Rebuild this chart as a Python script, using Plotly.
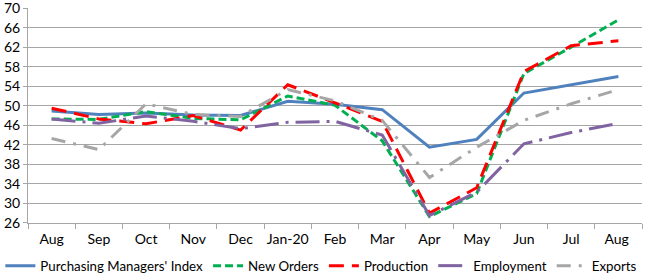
import plotly.graph_objects as go

months = ["Aug", "Sep", "Oct", "Nov", "Dec", "Jan-20", "Feb", "Mar", "Apr", "May", "Jun", "Jul", "Aug "]
pmi = [48.9, 48.2, 48.5, 48.1, 48.0, 50.9, 50.3, 49.2, 41.5, 43.1, 52.6, 54.3, 56.0]
new_orders = [47.3, 47.2, 48.8, 47.4, 47.1, 52.0, 50.1, 42.8, 27.3, 32.0, 56.6, 62.0, 67.6]
production = [49.5, 47.3, 46.3, 48.0, 45.0, 54.3, 50.6, 46.8, 28.0, 33.2, 57.0, 62.3, 63.3]
employment = [47.3, 46.4, 47.9, 46.8, 45.3, 46.6, 46.8, 44.0, 27.5, 32.3, 42.2, 44.5, 46.4]
exports = [43.3, 41.0, 50.4, 48.2, 47.8, 53.3, 51.0, 47.0, 35.3, 41.5, 47.0, 50.4, 53.3]
y_ticks = list(range(26, 71, 4))

series = [
    ("Purchasing Managers' Index", pmi, "#4F81BD", "solid"),
    ("New Orders", new_orders, "#00B050", "8px,4px"),
    ("Production", production, "#FF0000", "15px,8px"),
    ("Employment", employment, "#8064A2", "24px,7px,3px,7px"),
    ("Exports", exports, "#A6A6A6", "14px,8px,3px,8px"),
]

fig = go.Figure()
for name, vals, color, dash in series:
    fig.add_trace(go.Scatter(x=months, y=vals, name=name, mode="lines",
                             line=dict(color=color, width=3, dash=dash)))

font = dict(family="Lato, 'Open Sans', sans-serif", size=14, color="#000000")
fig.update_layout(
    width=649, height=275,
    margin=dict(l=28, r=7, t=8, b=52, autoexpand=False),
    paper_bgcolor="white", plot_bgcolor="white",
    font=font,
    showlegend=True,
    legend=dict(orientation="h", x=-0.045, xanchor="left", y=-0.2, yanchor="middle",
                font=dict(family="Lato, sans-serif", size=13.3), tracegroupgap=0,
                itemwidth=30, bgcolor="rgba(0,0,0,0)"),
    xaxis=dict(type="category", showgrid=False, showline=True, linecolor="#A6A6A6", linewidth=1,
               ticks="outside", tickson="boundaries", ticklen=5, tickcolor="#A6A6A6",
               tickfont=font, tickangle=0, automargin=False, ticklabeloverflow="allow",
               ticklabelstandoff=3, range=[-0.5, len(months) - 0.5]),
    yaxis=dict(range=[25.98, 70.02], tickvals=y_ticks, showgrid=True, gridcolor="#A6A6A6", gridwidth=1,
               showline=True, linecolor="#A6A6A6", linewidth=1, ticks="outside", ticklen=4,
               tickcolor="#A6A6A6", tickfont=font, zeroline=False, automargin=False,
               ticklabeloverflow="allow"),
)
fig.write_html("out.html", config={"displayModeBar": False},
               post_script="document.body.style.margin='0';")
